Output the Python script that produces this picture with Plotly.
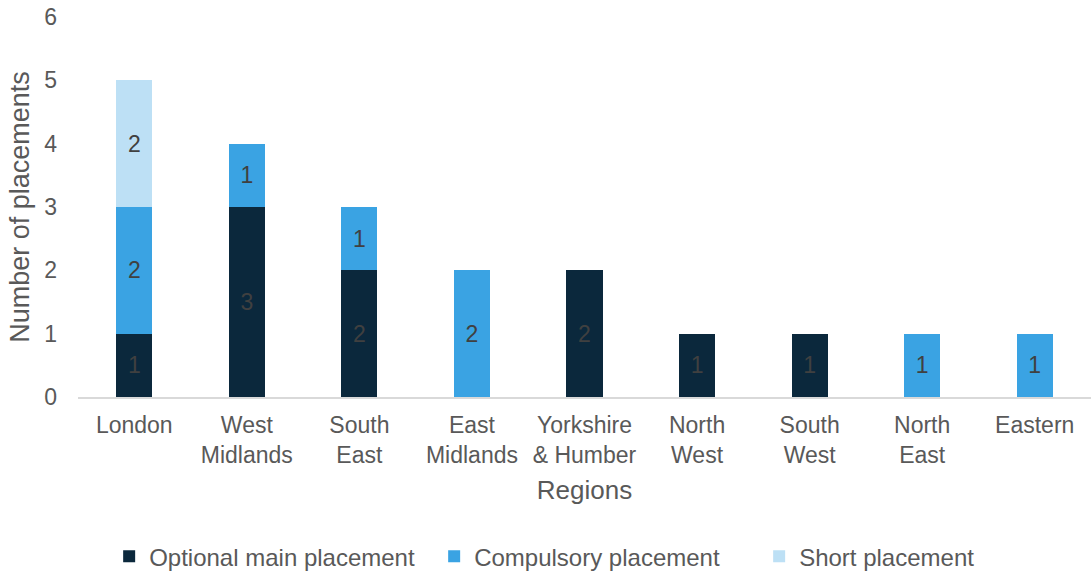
import plotly.graph_objects as go

regions = ["London", "West<br>Midlands", "South<br>East", "East<br>Midlands", "Yorkshire<br>& Humber",
           "North<br>West", "South<br>West", "North<br>East", "Eastern"]
optional_main = [1, 3, 2, 0, 2, 1, 1, 0, 0]
compulsory = [2, 1, 1, 2, 0, 0, 0, 1, 1]
short = [2, 0, 0, 0, 0, 0, 0, 0, 0]

series = [
    ("Optional main placement", optional_main, "#0B283C"),
    ("Compulsory placement", compulsory, "#3AA3E3"),
    ("Short placement", short, "#BDE0F5"),
]

FONT = "Liberation Sans, Arial, sans-serif"

fig = go.Figure()
for name, vals, color in series:
    fig.add_trace(go.Bar(
        x=regions,
        y=[v if v else None for v in vals],
        name=name,
        marker=dict(color=color, line=dict(width=0)),
        text=[str(v) if v else "" for v in vals],
        textposition="inside",
        insidetextanchor="middle",
        textangle=0,
        textfont=dict(family=FONT, size=23, color="#404040"),
    ))

fig.update_layout(
    barmode="stack",
    bargap=0.68,
    width=1091, height=574,
    margin=dict(l=78, r=0, t=17, b=177, autoexpand=False),
    paper_bgcolor="white", plot_bgcolor="white",
    font=dict(family=FONT, size=23, color="#595959"),
    uniformtext=dict(minsize=23, mode="show"),
    xaxis=dict(
        showgrid=False, showline=True, linecolor="#D9D9D9", linewidth=1.5,
        ticks="", tickfont=dict(size=23, color="#595959"), ticklabelstandoff=7,
        automargin=False,
        title=dict(text="Regions", font=dict(size=26, color="#595959"), standoff=14),
    ),
    yaxis=dict(
        range=[0, 6], dtick=1, showgrid=False, showline=False, zeroline=False,
        ticks="", tickfont=dict(size=23, color="#595959"), ticklabelstandoff=20,
        automargin=False,
        title=dict(text="Number of placements", font=dict(size=27, color="#595959"), standoff=6),
    ),
    legend=dict(
        orientation="h", x=0.512, xanchor="center", y=-0.42, yanchor="middle",
        font=dict(size=24, color="#595959"), traceorder="normal",
        itemwidth=30, entrywidth=280,
    ),
)

fig.write_html("out.html", config={"displayModeBar": False},
               post_script="document.body.style.margin='0';")
